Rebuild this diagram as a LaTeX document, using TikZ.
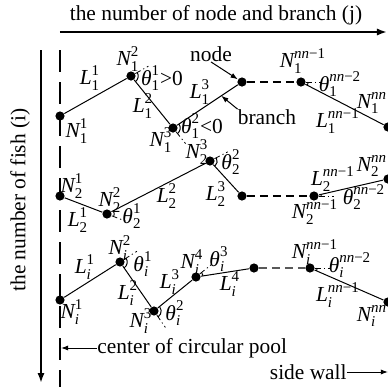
\documentclass[tikz,border=0pt]{standalone}
\usepackage{fontspec}
\setmainfont{LiberationSerif}[Extension=.ttf,UprightFont=*-Regular,ItalicFont=*-Italic,BoldFont=*-Bold,BoldItalicFont=*-BoldItalic]
\usepackage{amsmath}
\usetikzlibrary{arrows.meta,positioning,calc,angles}

\newcommand{\Nlab}[2]{$\textit{N}_{\text{#1}}^{\text{#2}}$}
\newcommand{\Llab}[2]{$\textit{L}_{\text{#1}}^{\text{#2}}$}
\newcommand{\Tlab}[2]{$\textit{θ}_{\text{#1}}^{\text{#2}}$}
\newcommand{\ii}{\textit{i}}
\newcommand{\nnm}[1]{\textit{nn}−#1}

\begin{document}
\begin{tikzpicture}[x=0.5pt,y=-0.5pt,font=\fontsize{10.7}{13}\selectfont,
    dot/.style={circle,fill=black,inner sep=0pt,minimum size=4.6pt},
    lab/.style={inner sep=0pt},
    branchln/.style={line width=0.5pt},
    gapln/.style={line width=0.7pt,dash pattern=on 4pt off 2.5pt},
    extln/.style={line width=0.4pt,dash pattern=on 3pt off 1.5pt on 0.6pt off 1.5pt},
    axis/.style={line width=1pt,-{Latex[length=5pt,width=3.6pt]}},
    pointer/.style={line width=0.5pt,-{Latex[length=3.6pt,width=2.6pt]}},
    poolln/.style={line width=0.9pt,dash pattern=on 11pt off 5pt},
    ang/.style={draw,line width=0.5pt,angle radius=3.6pt}]
  \useasboundingbox (0,0) rectangle (388,387);

  % axes and pool centre
  \coordinate (topL) at (60,32);
  \coordinate (topR) at (387,32);
  \coordinate (leftT) at (41,50);
  \coordinate (leftB) at (41,383);
  \coordinate (poolT) at (60,50);
  \coordinate (poolB) at (60,390);
  \draw[axis] (topL) -- (topR);
  \draw[axis] (leftT) -- (leftB);
  \draw[poolln] (poolT) -- (poolB);
  \node[lab] (jtxt) at (216,15) {the number of node and branch (j)};
  \node[lab,rotate=90] (itxt) at (20,200) {the number of fish (i)};

  % fish 1
  \node[dot] (A1) at (60,116) {};
  \node[dot] (A2) at (131,76) {};
  \node[dot] (A3) at (173,128) {};
  \node[dot] (A4) at (242,82) {};
  \node[dot] (A5) at (301,82) {};
  \node[dot] (A6) at (388,127) {};
  % fish 2
  \node[dot] (B1) at (60,196) {};
  \node[dot] (B2) at (107,214) {};
  \node[dot] (B3) at (210,161) {};
  \node[dot] (B4) at (242,196) {};
  \node[dot] (B5) at (314,196) {};
  \node[dot] (B6) at (388,179) {};
  % fish i
  \node[dot] (C1) at (60,300) {};
  \node[dot] (C2) at (120,262) {};
  \node[dot] (C3) at (154,311) {};
  \node[dot] (C4) at (196,277) {};
  \node[dot] (C5) at (254,268) {};
  \node[dot] (C6) at (310,268) {};
  \node[dot] (C7) at (388,302) {};

  \foreach \a/\b in {A1/A2,A2/A3,A3/A4,A5/A6,B1/B2,B2/B3,B3/B4,B5/B6,
                     C1/C2,C2/C3,C3/C4,C4/C5,C6/C7}
    \draw[branchln] (\a) -- (\b);
  \foreach \a/\b in {A4/A5,B4/B5}
    \draw[gapln] (\a) -- (\b);
  \draw[gapln,black!65] (C5) -- (C6);

  % direction of the previous branch, carried on
  \foreach \p/\n in {A1/A2,A2/A3,A4/A5,B1/B2,B2/B3,B4/B5,C1/C2,C2/C3,C3/C4,C5/C6} {
    \coordinate (E\n) at ($(\n)!10pt!180:(\p)$);
    \draw[extln] (\n) -- (E\n);
  }

  % turning angles
  \pic[ang] {angle=A3--A2--EA2};
  \pic[ang] {angle=EA3--A3--A4};
  \pic[ang] {angle=A6--A5--EA5};
  \pic[ang] {angle=EB2--B2--B3};
  \pic[ang] {angle=B4--B3--EB3};
  \pic[ang] {angle=EB5--B5--B6};
  \pic[ang] {angle=C3--C2--EC2};
  \pic[ang] {angle=EC3--C3--C4};
  \pic[ang] {angle=C5--C4--EC4};
  \pic[ang] {angle=C7--C6--EC6};

  % labels, fish 1
  \node[lab] (nA1) at (77,131) {\Nlab{1}{1}};
  \node[lab] (nA2) at (128,59) {\Nlab{1}{2}};
  \node[lab] (nA3) at (161,140) {\Nlab{1}{3}};
  \node[lab] (nA5) at (303,61) {\Nlab{1}{\nnm{1}}};
  \node[lab] (nA6) at (372,103) {\Nlab{1}{\textit{nn}}};
  \node[lab] (lA1) at (90,78) {\Llab{1}{1}};
  \node[lab] (lA2) at (143,106) {\Llab{1}{2}};
  \node[lab] (lA3) at (200,92) {\Llab{1}{3}};
  \node[lab] (lA5) at (338,121) {\Llab{1}{\nnm{1}}};
  \node[lab] (tA2) at (162,78) {\Tlab{1}{1}>0};
  \node[lab] (tA3) at (202,126) {\Tlab{1}{2}<0};
  \node[lab] (tA5) at (340,84) {\Tlab{1}{\nnm{2}}};
  \node[lab] (nodetxt) at (211,54) {node};
  \node[lab] (branchtxt) at (267,117) {branch};
  \coordinate (brtip) at ($(A3)!0.7!(A4)$);
  \draw[pointer] (nodetxt.south) -- (A4);
  \draw[pointer] (branchtxt.north west) -- (brtip);

  % labels, fish 2
  \node[lab] (nB1) at (72,186) {\Nlab{2}{1}};
  \node[lab] (nB2) at (110,200) {\Nlab{2}{2}};
  \node[lab] (nB3) at (197,152) {\Nlab{2}{3}};
  \node[lab] (nB5) at (315,212) {\Nlab{2}{\nnm{1}}};
  \node[lab] (nB6) at (372,166) {\Nlab{2}{\textit{nn}}};
  \node[lab] (lB1) at (78,220) {\Llab{2}{1}};
  \node[lab] (lB2) at (167,196) {\Llab{2}{2}};
  \node[lab] (lB3) at (216,194) {\Llab{2}{3}};
  \node[lab] (lB5) at (333,179) {\Llab{2}{\nnm{1}}};
  \node[lab] (tB2) at (132,216) {\Tlab{2}{1}};
  \node[lab] (tB3) at (231,162) {\Tlab{2}{2}};
  \node[lab] (tB5) at (364,197) {\Tlab{2}{\nnm{2}}};

  % labels, fish i
  \node[lab] (nC1) at (72,312) {\Nlab{\ii}{1}};
  \node[lab] (nC2) at (120,248) {\Nlab{\ii}{2}};
  \node[lab] (nC3) at (141,321) {\Nlab{\ii}{3}};
  \node[lab] (nC4) at (192,262) {\Nlab{\ii}{4}};
  \node[lab] (nC6) at (315,252) {\Nlab{\ii}{\nnm{1}}};
  \node[lab] (nC7) at (372,316) {\Nlab{\ii}{\textit{nn}}};
  \node[lab] (lC1) at (85,267) {\Llab{\ii}{1}};
  \node[lab] (lC2) at (128,293) {\Llab{\ii}{2}};
  \node[lab] (lC3) at (170,282) {\Llab{\ii}{3}};
  \node[lab] (lC4) at (230,284) {\Llab{\ii}{4}};
  \node[lab] (lC6) at (338,295) {\Llab{\ii}{\nnm{1}}};
  \node[lab] (tC2) at (143,264) {\Tlab{\ii}{1}};
  \node[lab] (tC3) at (175,313) {\Tlab{\ii}{2}};
  \node[lab] (tC4) at (219,259) {\Tlab{\ii}{3}};
  \node[lab] (tC6) at (350,265) {\Tlab{\ii}{\nnm{2}}};

  % pool centre and wall
  \node[lab,anchor=west] (pooltxt) at (97,348) {center of circular pool};
  \coordinate (poolpt) at (61,348);
  \draw[pointer] (pooltxt.west) -- (poolpt);
  \node[lab,anchor=east] (walltxt) at (347,372) {side wall};
  \coordinate (wallpt) at (388,372);
  \draw[pointer] (walltxt.east) -- (wallpt);
\end{tikzpicture}
\end{document}
